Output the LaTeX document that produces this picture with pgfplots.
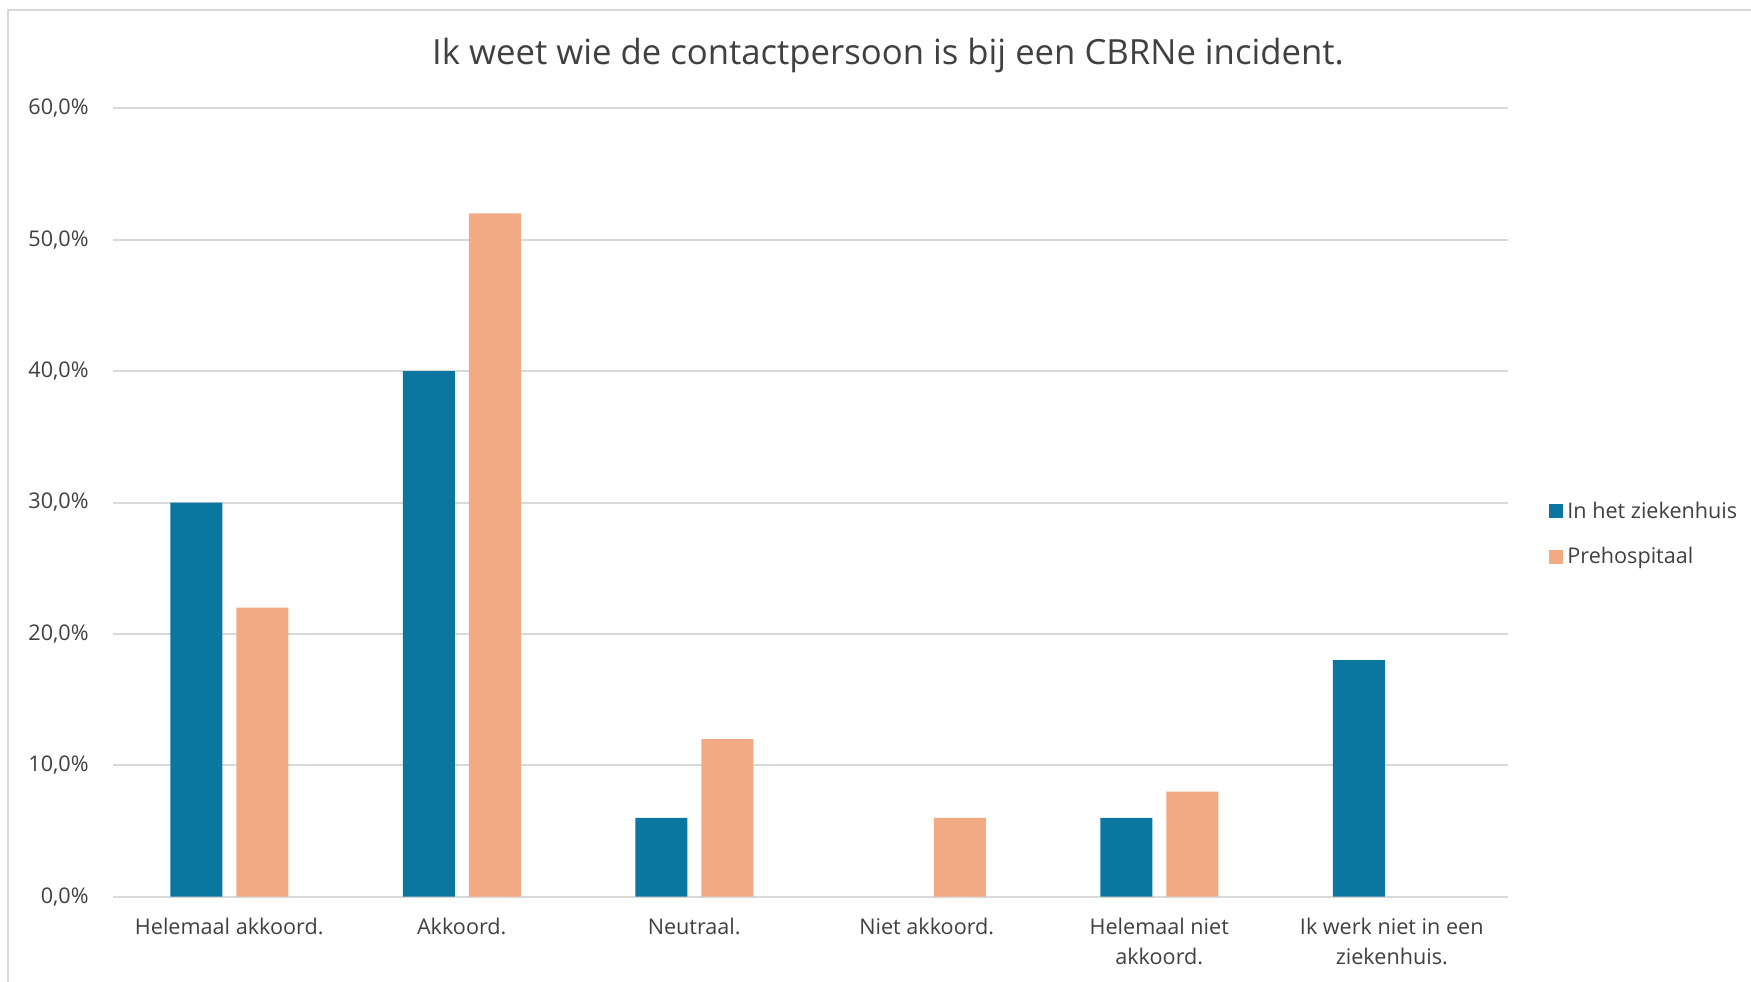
\documentclass[border=0pt]{standalone}
\usepackage{pgfplots}
\pgfplotsset{compat=1.18}
\usepackage{fontspec}
\setmainfont{Open Sans}

\definecolor{ziekenhuis}{HTML}{0B769F}
\definecolor{prehosp}{HTML}{F2AA84}
\definecolor{gridgray}{HTML}{D9D9D9}
\definecolor{txt}{HTML}{404040}

\begin{document}
\begin{tikzpicture}
  % canvas and outer frame of the chart area
  \useasboundingbox (0,0) rectangle (875.5bp,491bp);
  \draw[gridgray, line width=1bp] (3.85bp,0) -- (3.85bp,486bp) -- (875.5bp,486bp);

  \node[anchor=base, text=txt, font=\fontsize{17.35bp}{20bp}\selectfont, inner sep=0pt]
    at (444bp,458.5bp) {Ik weet wie de contactpersoon is bij een CBRNe incident.};

  \begin{axis}[
      at={(56.5bp,42.65bp)}, anchor=south west,
      scale only axis,
      width=697.5bp, height=394.2bp,
      ybar=7bp, bar width=26bp,
      xmin=-0.5, xmax=5.5,
      ymin=0, ymax=60,
      xtick={0,1,2,3,4,5},
      xticklabels={{Helemaal akkoord.},{Akkoord.},{Neutraal.},{Niet akkoord.},
                   {Helemaal niet\\akkoord.},{Ik werk niet in een\\ziekenhuis.}},
      ytick={0,10,20,30,40,50,60},
      yticklabels={{0,0\%},{10,0\%},{20,0\%},{30,0\%},{40,0\%},{50,0\%},{60,0\%}},
      major tick length=0pt,
      axis line style={draw=none},
      ymajorgrids,
      major grid style={gridgray, line width=1bp},
      xticklabel style={anchor=north, align=center, inner sep=0pt, yshift=-10.5bp,
                        text=txt, font=\fontsize{10.8bp}{15bp}\selectfont},
      yticklabel style={anchor=east, inner sep=0pt, xshift=-12bp,
                        text=txt, font=\fontsize{10.8bp}{13bp}\selectfont},
      legend style={at={(1.0294,0.46)}, anchor=west, draw=none, fill=none,
                    inner sep=0pt, row sep=9bp,
                    font=\fontsize{10.8bp}{13bp}\selectfont, text=txt,
                    cells={anchor=west}},
      legend image code/.code={\fill[#1] (0bp,-3.5bp) rectangle (7bp,3.5bp);},
      legend cell align=left,
    ]
    % categories without a response share are left out (0 %)
    \addplot[fill=ziekenhuis, draw=none] coordinates
      {(0,30) (1,40) (2,6) (4,6) (5,18)};
    \addplot[fill=prehosp, draw=none] coordinates
      {(0,22) (1,52) (2,12) (3,6) (4,8)};
    \legend{In het ziekenhuis, Prehospitaal}
  \end{axis}
\end{tikzpicture}
\end{document}
